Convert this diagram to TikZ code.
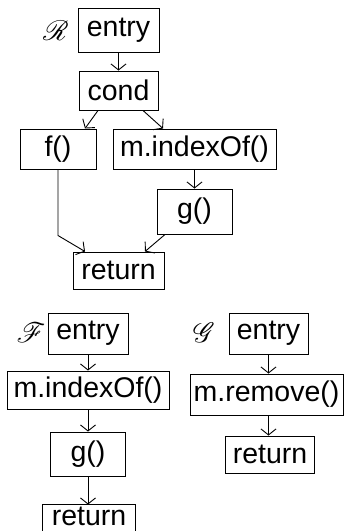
\documentclass[tikz,border=0pt]{standalone}
\usepackage{fontspec}
\setmainfont{Liberation Sans}
\usepackage{mathrsfs}
\usetikzlibrary{arrows.meta,calc}
\newcommand{\biglbl}[1]{\scalebox{2.8}{$\mathscr{#1}$}}
\begin{document}
\begin{tikzpicture}[x=1pt,y=-1pt,
  box/.style={draw, line width=1pt, inner sep=0pt, font=\fontsize{28.5}{28.5}\selectfont},
  lbl/.style={inner sep=0pt},
  arr/.style={line width=0.9pt, -{Straight Barb[length=6pt,width=15pt,line width=0.9pt]}}]
\clip (0,0) rectangle (346,531);
% ---- R ----
\node[lbl] (Rl) at (56,31) {\biglbl{R}};
\node[box, minimum width=81pt, minimum height=44pt] (e1) at (118.5,30) {entry};
\node[box, minimum width=79pt, minimum height=39pt] (c) at (118.5,90.5) {cond};
\node[box, minimum width=76pt, minimum height=40pt] (f) at (58,149) {f()};
\node[box, minimum width=163pt, minimum height=40pt] (mi) at (194.5,149) {m.indexOf()};
\node[box, minimum width=75pt, minimum height=45pt] (g) at (194.5,211.5) {g()};
\node[box, minimum width=91pt, minimum height=37pt] (r) at (118.5,270.5) {return};
\draw[arr] (e1) -- (c);
\draw[arr] ([xshift=-20.5pt]c.south) -- ([xshift=27pt]f.north);
\draw[arr] ([xshift=24.5pt]c.south) -- ([xshift=-31.5pt]mi.north);
\draw[arr] (mi) -- (g);
\coordinate (fb) at ($(f.south)+(0,66)$);
\draw[arr] (f.south) -- (fb) -- ([xshift=-33.5pt]r.north);
\draw[arr] ([xshift=-29.5pt]g.south) -- ([xshift=26.5pt]r.north);
% ---- F ----
\node[lbl] (Fl) at (31,333) {\biglbl{F}};
\node[box, minimum width=80pt, minimum height=41pt] (fe) at (88,333.5) {entry};
\node[box, minimum width=162pt, minimum height=38pt] (fm) at (88,390) {m.indexOf()};
\node[box, minimum width=75pt, minimum height=44pt] (fg) at (88,454) {g()};
\node[box, draw=none, minimum width=92pt, minimum height=22pt] (fr) at (89,516) {return};
\draw[line width=1pt] ($(fr.south west)+(0,10)$) -- (fr.north west) -- (fr.north east) -- ($(fr.south east)+(0,10)$);
\draw[arr] (fe) -- (fm);
\draw[arr] (fm) -- (fg);
\draw[arr] (fg) -- (fg |- fr.north);
% ---- G ----
\node[lbl] (Gl) at (204,333) {\biglbl{G}};
\node[box, minimum width=79pt, minimum height=41pt] (ge) at (268.5,333.5) {entry};
\node[box, minimum width=153pt, minimum height=41pt] (gm) at (266.5,394.5) {m.remove()};
\node[box, minimum width=89pt, minimum height=37pt] (gr) at (270,454.5) {return};
\draw[arr] (ge) -- (ge |- gm.north);
\draw[arr] (ge |- gm.south) -- (ge |- gr.north);
\end{tikzpicture}
\end{document}
